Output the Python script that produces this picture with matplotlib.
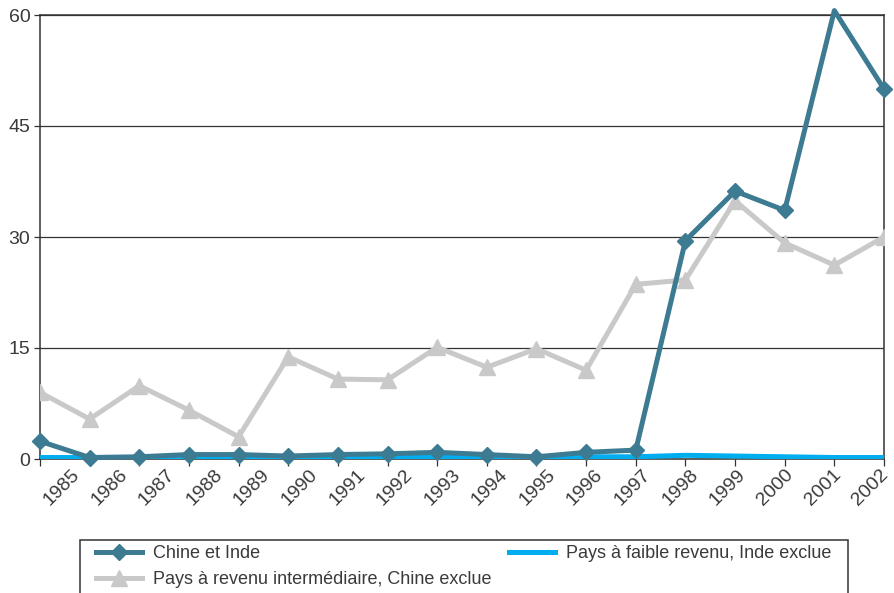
import numpy as np
import matplotlib
matplotlib.use('Agg')
import matplotlib.pyplot as plt
from matplotlib.patches import Rectangle

plt.rcParams['font.family'] = ['Liberation Sans', 'DejaVu Sans']

years = ['1985', '1986', '1987', '1988', '1989', '1990', '1991', '1992', '1993',
         '1994', '1995', '1996', '1997', '1998', '1999', '2000', '2001', '2002']

chine_inde = [2.4, 0.2, 0.3, 0.6, 0.6, 0.4, 0.6, 0.7, 0.9,
              0.6, 0.3, 0.9, 1.2, 29.5, 36.2, 33.6, 60.6, 50.0]
revenu_interm = [9.0, 5.4, 9.9, 6.6, 3.0, 13.8, 10.8, 10.7, 15.1,
                 12.4, 14.9, 12.0, 23.6, 24.2, 34.9, 29.2, 26.2, 30.0]
faible_revenu = [0.2, 0.2, 0.2, 0.2, 0.2, 0.2, 0.3, 0.3, 0.3,
                 0.3, 0.2, 0.3, 0.3, 0.5, 0.4, 0.3, 0.2, 0.2]

yticks = [0, 15, 30, 45, 60]
ymax = 60

c_dark = '#3d7b93'
c_grey = '#c9c9c9'
c_blue = '#00aeef'
c_text = '#3a3a3a'
c_axis = '#333333'

W, H = 895, 593
fig = plt.figure(figsize=(W / 100, H / 100), dpi=100)
ax = fig.add_axes([40 / W, 1 - 459 / H, 844 / W, 444 / H])

x = np.arange(len(years))

# markers outside the plot range are hidden, like in the original
mark_ci = [i for i, v in enumerate(chine_inde) if v <= ymax]

l1, = ax.plot(x, chine_inde, color=c_dark, lw=3.6, marker='D', ms=8.5,
              markevery=mark_ci, label='Chine et Inde', zorder=5, clip_on=False)
l3, = ax.plot(x, revenu_interm, color=c_grey, lw=3.6, marker='^', ms=11,
              label='Pays à revenu intermédiaire, Chine exclue', zorder=3)
l2, = ax.plot(x, faible_revenu, color=c_blue, lw=3.6,
              label='Pays à faible revenu, Inde exclue', zorder=4)

ax.set_xlim(0, len(years) - 1)
ax.set_ylim(0, ymax)
ax.set_yticks(yticks)
ax.set_yticklabels([str(v) for v in yticks], fontsize=14, color=c_text)
ax.yaxis.grid(True, color=c_axis, lw=0.9)
ax.set_axisbelow(True)
ax.tick_params(axis='y', length=4, width=0.9, color=c_axis, pad=3)

# tick marks on the categories, labels slightly offset like the original
ax.set_xticks(x)
ax.set_xticklabels([])
ax.tick_params(axis='x', which='major', length=5, width=0.9, color=c_axis)
lab_pos = x * 0.958 + 0.44
ax.set_xticks(lab_pos, minor=True)
ax.set_xticklabels(years, minor=True, rotation=45, ha='center', va='top',
                   fontsize=14, color=c_text)
ax.tick_params(axis='x', which='minor', length=0, pad=5)

for s in ['left', 'bottom', 'right', 'top']:
    ax.spines[s].set_color(c_axis)
    ax.spines[s].set_linewidth(1.1)

# legend box (runs off the bottom of the picture)
fig.patches.append(Rectangle((80 / W, -0.05), 768 / W, 0.05 + 53 / H,
                             transform=fig.transFigure, fill=False,
                             edgecolor=c_axis, lw=1.1))

leg = fig.legend(handles=[l1, l3, l2], loc='upper left', ncol=2,
                 bbox_to_anchor=(96 / W, 1 - 545 / H),
                 frameon=False, fontsize=13, handlelength=2.55,
                 handletextpad=0.6, columnspacing=1.0, borderaxespad=0,
                 labelspacing=0.5, borderpad=0)
for t in leg.get_texts():
    t.set_color(c_text)

fig.savefig('out.png', dpi=100)
